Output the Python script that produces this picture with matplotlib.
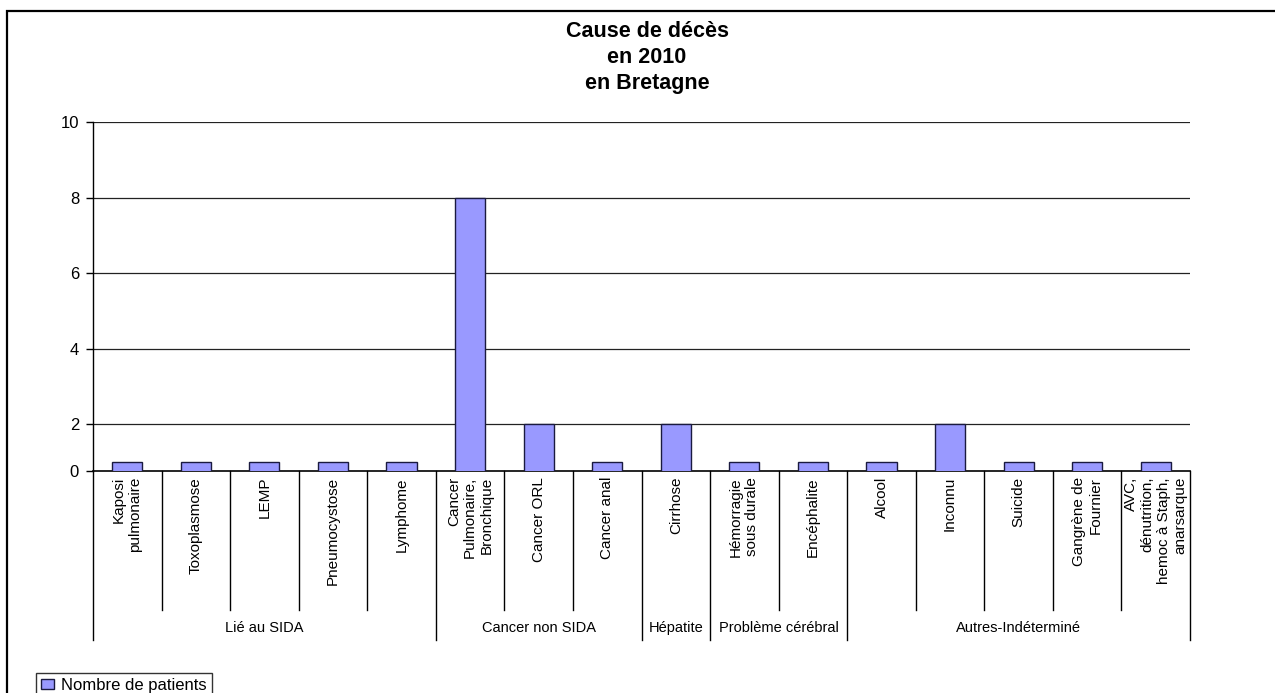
import matplotlib
matplotlib.use("Agg")
import matplotlib.pyplot as plt
from matplotlib.patches import Rectangle, Patch
import matplotlib.transforms as mtransforms

plt.rcParams['font.family'] = ['Liberation Sans', 'DejaVu Sans']

# ---- data ----
categories = ["Kaposi\npulmonaire", "Toxoplasmose", "LEMP", "Pneumocystose", "Lymphome",
              "Cancer\nPulmonaire,\nBronchique", "Cancer ORL", "Cancer anal",
              "Cirrhose",
              "Hémorragie\nsous durale", "Encéphalite",
              "Alcool", "Inconnu", "Suicide", "Gangrène de\nFournier",
              "AVC,\ndénutrition,\nhemoc à Staph,\nanarsarque"]
values = [1, 1, 1, 1, 1, 8, 2, 1, 2, 1, 1, 1, 2, 1, 1, 1]
groups = ["Lié au SIDA", "Cancer non SIDA", "Hépatite", "Problème cérébral", "Autres-Indéterminé"]
group_sizes = [5, 3, 1, 2, 5]
y_ticks = [2, 4, 6, 8, 10]
y_tick_labels = ["2", "4", "6", "8", "10"]
series_name = "Nombre de patients"
title = "Cause de décès\nen 2010\nen Bretagne"

W, H = 1275, 693
fig = plt.figure(figsize=(W / 100, H / 100), dpi=100)
fig.patch.set_facecolor("white")

# outer chart frame (extends beyond right/bottom edges)
fig.patches.append(Rectangle((7 / W, -0.2), 1.5, 1.2 - 11 / H, transform=fig.transFigure,
                             fill=False, edgecolor="black", lw=1.6, zorder=0))

left, right, top, bottom = 93, 1190, 122, 471
ax = fig.add_axes([left / W, 1 - bottom / H, (right - left) / W, (bottom - top) / H])

n = len(categories)
x = list(range(n))
ax.bar(x, values, width=0.44, color="#9999FF", edgecolor="#1a1a40", linewidth=1.0, zorder=3)

ax.set_xlim(-0.5, n - 0.5)
y_visible_min = 0.755
ax.set_ylim(y_visible_min, 10)
ax.set_yticks([y_visible_min] + y_ticks)
ax.set_yticklabels(["0"] + y_tick_labels, fontsize=12)
ax.tick_params(axis="y", direction="out", length=5, width=1, pad=5, colors="black")
ax.set_xticks([])
for yv in y_ticks:
    ax.axhline(yv, color="#222222", lw=0.9, zorder=1)

for s in ["top", "right"]:
    ax.spines[s].set_visible(False)
ax.spines["left"].set_linewidth(1.0)
ax.spines["bottom"].set_linewidth(1.2)

# multi-level category axis
trans = mtransforms.blended_transform_factory(ax.transData, ax.transAxes)
ah = bottom - top
cat_line_bottom = (bottom - 610) / ah
grp_line_bottom = (bottom - 640) / ah
label_top = (bottom - 477) / ah
grp_label_y = (bottom - 628) / ah

boundaries = [0]
for g in group_sizes:
    boundaries.append(boundaries[-1] + g)

for i in range(n + 1):
    xb = i - 0.5
    yb = grp_line_bottom if i in boundaries else cat_line_bottom
    ax.plot([xb, xb], [0, yb], color="black", lw=1.0, transform=trans, clip_on=False)

for i, c in enumerate(categories):
    ax.text(i, label_top, c, rotation=90, ha="center", va="top", multialignment="right",
            fontsize=11, transform=trans, linespacing=1.2)

for gi, g in enumerate(groups):
    xc = (boundaries[gi] + boundaries[gi + 1]) / 2 - 0.5
    ax.text(xc, grp_label_y, g, ha="center", va="center", fontsize=10.5, transform=trans)

fig.text(647 / W, 1 - 21 / H, title, ha="center", va="top", fontsize=15.5,
         fontweight="bold", linespacing=1.32)

handle = Patch(facecolor="#9999FF", edgecolor="#1a1a40", linewidth=1.0)
leg = fig.legend([handle], [series_name], loc="upper left",
                 bbox_to_anchor=(36 / W, 1 - 673 / H), frameon=True, fancybox=False,
                 edgecolor="black", fontsize=12, handlelength=0.8, handleheight=0.6,
                 handletextpad=0.4, borderpad=0.3, borderaxespad=0)
leg.get_frame().set_linewidth(1.0)

fig.savefig("out.png", dpi=100, facecolor="white")
